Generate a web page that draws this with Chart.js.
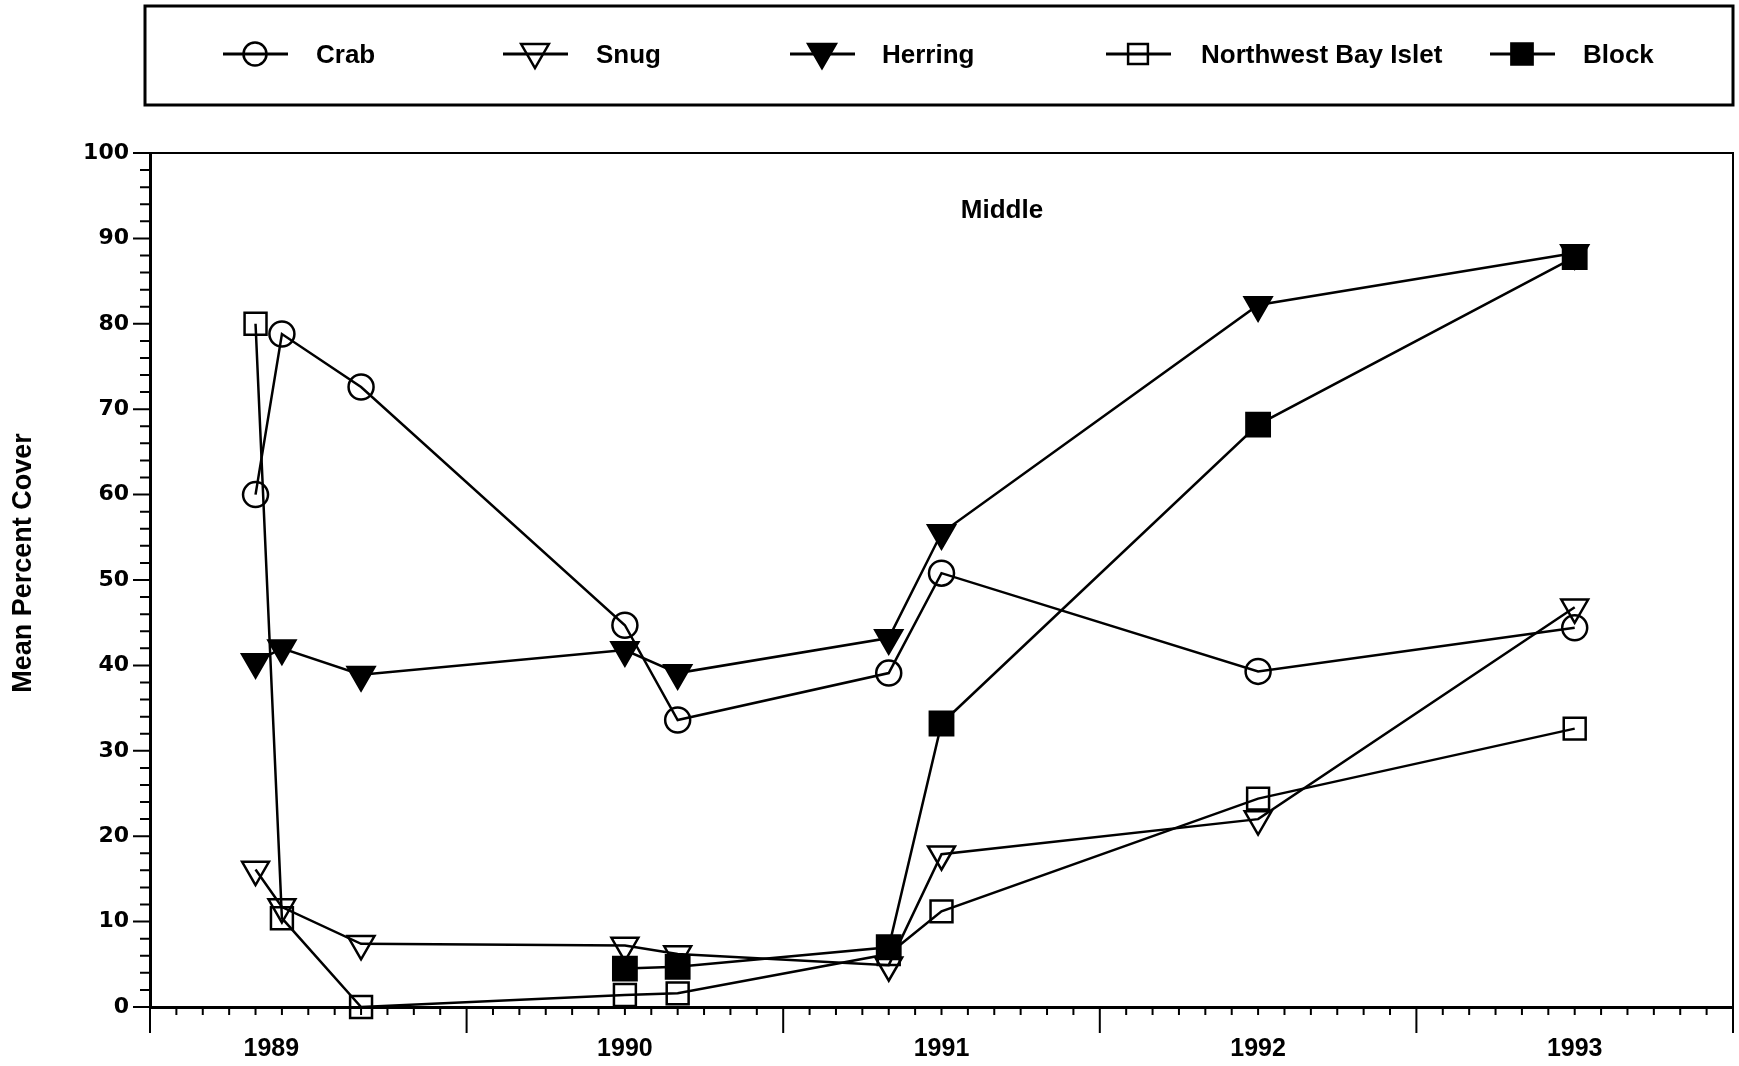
<!DOCTYPE html>
<html>
<head>
<meta charset="utf-8">
<script src="https://cdn.jsdelivr.net/npm/chart.js@4.4.0/dist/chart.umd.min.js"></script>
<style>
  html, body { margin: 0; padding: 0; background: #fff; }
  #wrap { width: 1739px; height: 1066px; }
</style>
</head>
<body>
<div id="wrap"><canvas id="coverChart" width="1739" height="1066"></canvas></div>
<script>
// sampling times, in months counted from Jan 1989
const sampleMonths = [4, 5, 8, 18, 20, 28, 30, 42, 54];

// mean percent cover per site (null = not sampled)
const crabCover      = [60, 78.8, 72.6, 44.7, 33.6, 39.1, 50.8, 39.3, 44.4];
const snugCover      = [16.1, 11.7, 7.4, 7.2, 6.2, 4.9, 17.9, 22.0, 46.8];
const herringCover   = [40.4, 42.0, 38.9, 41.8, 39.1, 43.2, 55.5, 82.2, 88.3];
const northwestCover = [80, 10.4, 0, 1.4, 1.6, 6.2, 11.2, 24.4, 32.6];
const blockCover     = [null, null, null, 4.5, 4.7, 7.0, 33.2, 68.2, 87.8];

const yearLabels = ['1989', '1990', '1991', '1992', '1993'];
const yearLabelMonths = [4.6, 18, 30, 42, 54];

const BOLD = "'Liberation Sans', Arial, sans-serif";

function toPoints(values) {
    return sampleMonths
        .map((m, i) => ({ x: m, y: values[i] }))
        .filter(p => p.y !== null);
}

// marker looks: open = transparent inside, the line shows through
const series = [
    { label: 'Crab', values: crabCover, style: 'circle', radius: 12.5, filled: false, order: 2 },
    { label: 'Snug', values: snugCover, style: 'triangle', radius: 15.5, filled: false, order: 3 },
    { label: 'Herring', values: herringCover, style: 'triangle', radius: 15.5, filled: true, order: 1 },
    { label: 'Northwest Bay Islet', values: northwestCover, style: 'rect', radius: 15.5, filled: false, order: 4 },
    { label: 'Block', values: blockCover, style: 'rect', radius: 16.5, filled: true, order: 0 }
];

// legend placement inside the framed box (px)
const legendBox = { left: 145, top: 6, right: 1733, bottom: 105 };
const legendSymbolX = [255, 535, 822, 1138, 1522];
const legendTextX = [316, 596, 882, 1201, 1583];
const legendSymbolR = [11.5, 16, 16, 14, 15];

function drawMarker(ctx, style, x, y, r, filled) {
    ctx.beginPath();
    if (style === 'circle') {
        ctx.arc(x, y, r, 0, Math.PI * 2);
    } else if (style === 'triangle') {
        const h = r * Math.sin(Math.PI / 3);
        ctx.moveTo(x, y + r);
        ctx.lineTo(x - h, y - r / 2);
        ctx.lineTo(x + h, y - r / 2);
        ctx.closePath();
    } else {
        const s = r * Math.SQRT1_2;
        ctx.rect(x - s, y - s, 2 * s, 2 * s);
    }
    if (filled) ctx.fill();
    ctx.stroke();
}

const boxLegend = {
    id: 'boxLegend',
    afterDraw(chart) {
        const ctx = chart.ctx;
        const a = chart.chartArea;
        ctx.save();
        ctx.strokeStyle = '#000';
        ctx.fillStyle = '#000';
        ctx.lineWidth = 3;
        ctx.strokeRect(legendBox.left, legendBox.top,
            legendBox.right - legendBox.left, legendBox.bottom - legendBox.top);

        const rowY = 54;
        ctx.font = 'bold 26px ' + BOLD;
        ctx.textBaseline = 'alphabetic';
        ctx.textAlign = 'left';
        series.forEach((s, i) => {
            const cx = legendSymbolX[i];
            ctx.lineWidth = 3;
            ctx.beginPath();
            ctx.moveTo(cx - 32, rowY);
            ctx.lineTo(cx + 33, rowY);
            ctx.stroke();
            ctx.lineWidth = 2.5;
            const my = s.style === 'triangle' ? rowY - 2 : rowY;
            drawMarker(ctx, s.style, cx, my, legendSymbolR[i], s.filled);
            ctx.fillText(s.label, legendTextX[i], 63);
        });

        // panel label
        ctx.textAlign = 'center';
        ctx.fillText('Middle', 1002, 218);

        // y axis title
        ctx.save();
        ctx.translate(24, (a.top + a.bottom) / 2 - 17);
        ctx.rotate(-Math.PI / 2);
        ctx.textBaseline = 'middle';
        ctx.font = 'bold 27px ' + BOLD;
        ctx.fillText('Mean Percent Cover', 0, 0);
        ctx.restore();
        ctx.restore();
    }
};

// minor/major tick marks and the plot frame
const tickMarks = {
    id: 'tickMarks',
    beforeDatasetsDraw(chart) {
        const { ctx, chartArea: a, scales: { x, y } } = chart;
        ctx.save();
        ctx.strokeStyle = '#000';
        ctx.lineWidth = 2;
        ctx.beginPath();
        for (let m = x.min; m <= x.max; m++) {
            const px = x.getPixelForValue(m);
            const len = m % 12 === 0 ? 26 : 8;
            ctx.moveTo(px, a.bottom);
            ctx.lineTo(px, a.bottom + len);
        }
        for (let v = y.min; v <= y.max; v += 2) {
            const py = y.getPixelForValue(v);
            const len = v % 10 === 0 ? 17 : 10;
            ctx.moveTo(a.left, py);
            ctx.lineTo(a.left - len, py);
        }
        ctx.stroke();
        ctx.strokeRect(a.left, a.top, a.right - a.left, a.bottom - a.top);
        ctx.restore();
    }
};

const datasets = series.map(s => ({
    label: s.label,
    data: toPoints(s.values),
    borderColor: '#000',
    borderWidth: 2.5,
    fill: false,
    tension: 0,
    clip: false,
    order: s.order,
    pointStyle: s.style,
    rotation: s.style === 'triangle' ? 180 : 0,
    pointRadius: s.radius,
    pointBorderWidth: 2.5,
    pointBorderColor: '#000',
    pointBackgroundColor: s.filled ? '#000' : 'rgba(0,0,0,0)'
}));

const ctx = document.getElementById('coverChart').getContext('2d');
new Chart(ctx, {
    type: 'line',
    data: { datasets: datasets },
    plugins: [tickMarks, boxLegend],
    options: {
        responsive: false,
        animation: false,
        devicePixelRatio: 1,
        events: [],
        layout: { autoPadding: false, padding: { top: 153, right: 6, left: 0, bottom: 0 } },
        plugins: {
            legend: { display: false },
            tooltip: { enabled: false }
        },
        scales: {
            x: {
                type: 'linear',
                min: 0,
                max: 60,
                grid: { display: false, drawTicks: false },
                border: { display: true, color: '#000', width: 3 },
                afterBuildTicks: scale => {
                    scale.ticks = yearLabelMonths.map(v => ({ value: v }));
                },
                afterFit: scale => { scale.height = 59; },
                ticks: {
                    autoSkip: false,
                    maxRotation: 0,
                    padding: 27,
                    color: '#000',
                    font: { family: BOLD, size: 25, weight: 'bold' },
                    callback: (value, index) => yearLabels[index]
                }
            },
            y: {
                min: 0,
                max: 100,
                grid: { display: false, drawTicks: false },
                border: { display: true, color: '#000', width: 3 },
                afterFit: scale => { scale.width = 150; },
                ticks: {
                    stepSize: 10,
                    padding: 21,
                    color: '#000',
                    font: { family: "'DejaVu Sans', sans-serif", size: 22, weight: 'bold' }
                }
            }
        }
    }
});
</script>
</body>
</html>
